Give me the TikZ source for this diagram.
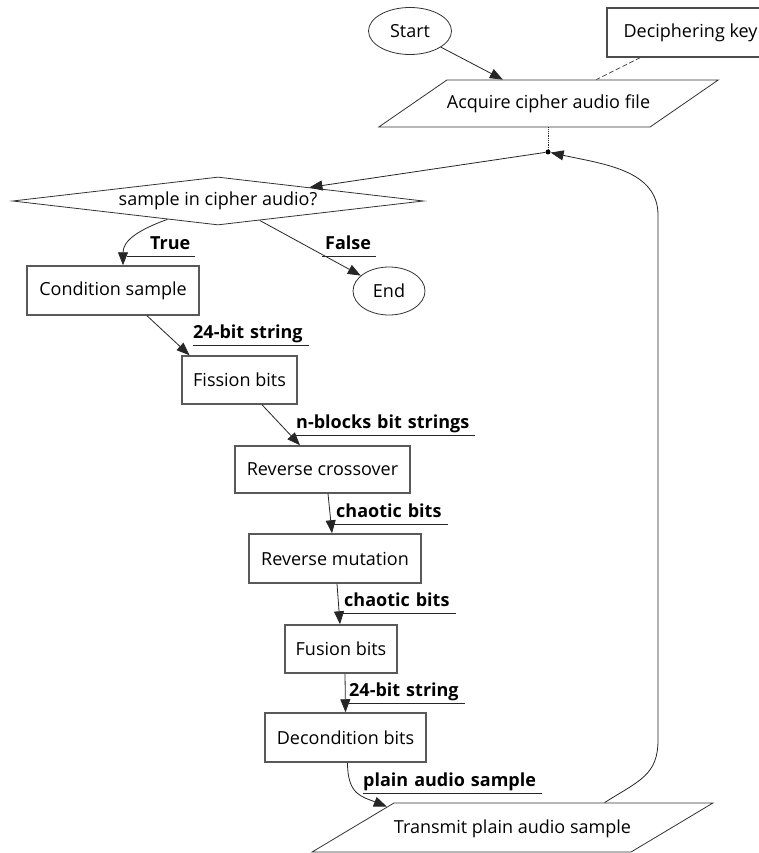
\documentclass[tikz,border=0pt]{standalone}
\usepackage{fontspec}
\setmainfont{Open Sans}
\usetikzlibrary{arrows.meta}
\usetikzlibrary{shapes.geometric}

\begin{document}
\begin{tikzpicture}[x=1pt,y=-1pt,
  term/.style={ellipse, draw=black!80, line width=0.8pt, inner sep=0pt, font=\fontsize{18}{20}\selectfont},
  proc/.style={rectangle, draw=black!65, line width=1.5pt, inner sep=0pt, font=\fontsize{18}{20}\selectfont},
  inout/.style={trapezium, trapezium stretches body, draw=black!80, line width=0.8pt, inner xsep=0pt, text height=15pt, text depth=4pt, font=\fontsize{18}{20}\selectfont},
  test/.style={diamond, aspect=8.5, draw=black!80, line width=0.8pt, inner sep=0pt, font=\fontsize{18}{20}\selectfont},
  elabel/.style={anchor=south west, inner xsep=0pt, inner ysep=2.5pt, text depth=4pt, align=left, font=\fontsize{18}{20}\selectfont\bfseries},
  uline/.style={line width=0.8pt, draw=black!85},
  arr/.style={-{Triangle[length=13pt,width=10pt]}, line width=0.8pt, draw=black!85},
  dot/.style={circle, fill=black, inner sep=0pt, minimum size=5pt}
]
\useasboundingbox (0,0) rectangle (758,853);
\fill[white] (0,0) rectangle (758,853);
% draws nodes
\node[term, minimum width=83pt, minimum height=47pt] (start) at (410,31) {Start};
\node[proc, draw=black!70, line width=1.2pt, minimum width=167pt, minimum height=49pt] (key) at (690.5,32.5) {Deciphering key};
\node[inout, inner ysep=14pt, trapezium left angle=34.6, trapezium right angle=145.4, minimum width=337pt] (acq) at (548.5,103.5) {Acquire cipher audio file};
\node[dot] (j) at (548,152) {};
\node[test, minimum width=411pt, minimum height=48pt] (dm) at (218,201) {sample in cipher audio?};
\node[proc, minimum width=172pt, minimum height=49pt] (cond) at (113,290.5) {Condition sample};
\node[term, minimum width=72pt, minimum height=48pt] (fin) at (389,291) {End};
\node[proc, minimum width=115pt, minimum height=48pt] (fis) at (239.5,380) {Fission bits};
\node[proc, minimum width=175pt, minimum height=47pt] (rcx) at (322.5,469.5) {Reverse crossover};
\node[proc, minimum width=172pt, minimum height=49pt] (rmu) at (335,558.5) {Reverse mutation};
\node[proc, minimum width=112pt, minimum height=48pt] (fus) at (341,649) {Fusion bits};
\node[proc, minimum width=161pt, minimum height=49pt] (dcd) at (345.5,737.5) {Decondition bits};
\node[inout, inner ysep=15pt, trapezium left angle=30.9, trapezium right angle=149.1, minimum width=399pt] (tx) at (512.5,827.5) {Transmit plain audio sample};
% labels edges
\node[elabel, text width=68pt] (lbTrue) at (127,256) {\hspace*{23pt}True};
\node[elabel, text width=54pt] (lbFalse) at (322,256) {\hspace*{3pt}False};
\node[elabel, text width=116pt] (lbBitsA) at (193,345) {24-bit string};
\node[elabel, text width=179pt] (lbBlocks) at (296,435) {n-blocks bit strings};
\node[elabel, text width=115pt] (lbChaosA) at (333,524) {\hspace*{3pt}chaotic bits};
\node[elabel, text width=116pt] (lbChaosB) at (340,613) {\hspace*{4pt}chaotic bits};
\node[elabel, text width=116pt] (lbBitsB) at (349,703) {24-bit string};
\node[elabel, text width=179pt] (lbPlain) at (363,793) {plain audio sample};
\foreach \l in {lbTrue,lbFalse,lbBitsA,lbBlocks,lbChaosA,lbChaosB,lbBitsB,lbPlain}
  \draw[uline] (\l.south west) -- (\l.south east);
% draws edges
\draw[arr] (start) -- (acq);
\draw[uline, draw=black!70, dash pattern=on 5pt off 2.5pt] (key) -- (acq);
\draw[uline, densely dotted] (acq.south -| j) -- (j);
\draw[arr] (j) -- (dm);
\draw[arr] (dm.200) .. controls +(-28,10) and +(0,-25) .. ([xshift=10pt]cond.north);
\draw[arr] (dm.335) -- (fin);
\draw[arr] ([xshift=34pt]cond.south) -- ([xshift=-50pt]fis.north);
\draw[arr] ([xshift=22.5pt]fis.south) -- ([xshift=-22.5pt]rcx.north);
\draw[arr] ([xshift=5.5pt]rcx.south) -- ([xshift=-3pt]rmu.north);
\draw[arr] ([xshift=2pt]rmu.south) -- ([xshift=-1pt]fus.north);
\draw[arr] ([xshift=4pt]fus.south) -- (dcd.north);
\draw[arr] ([xshift=2pt]dcd.south) .. controls +(0,32) and +(-25,-10) .. ([xshift=-7pt,yshift=-4pt]tx.top left corner);
\draw[arr] ([xshift=92pt]tx.north) .. controls +(35,-22) and +(0,35) .. (658,740) -- (658,215) .. controls +(0,-45) and +(55,12) .. (j);
\end{tikzpicture}
\end{document}
